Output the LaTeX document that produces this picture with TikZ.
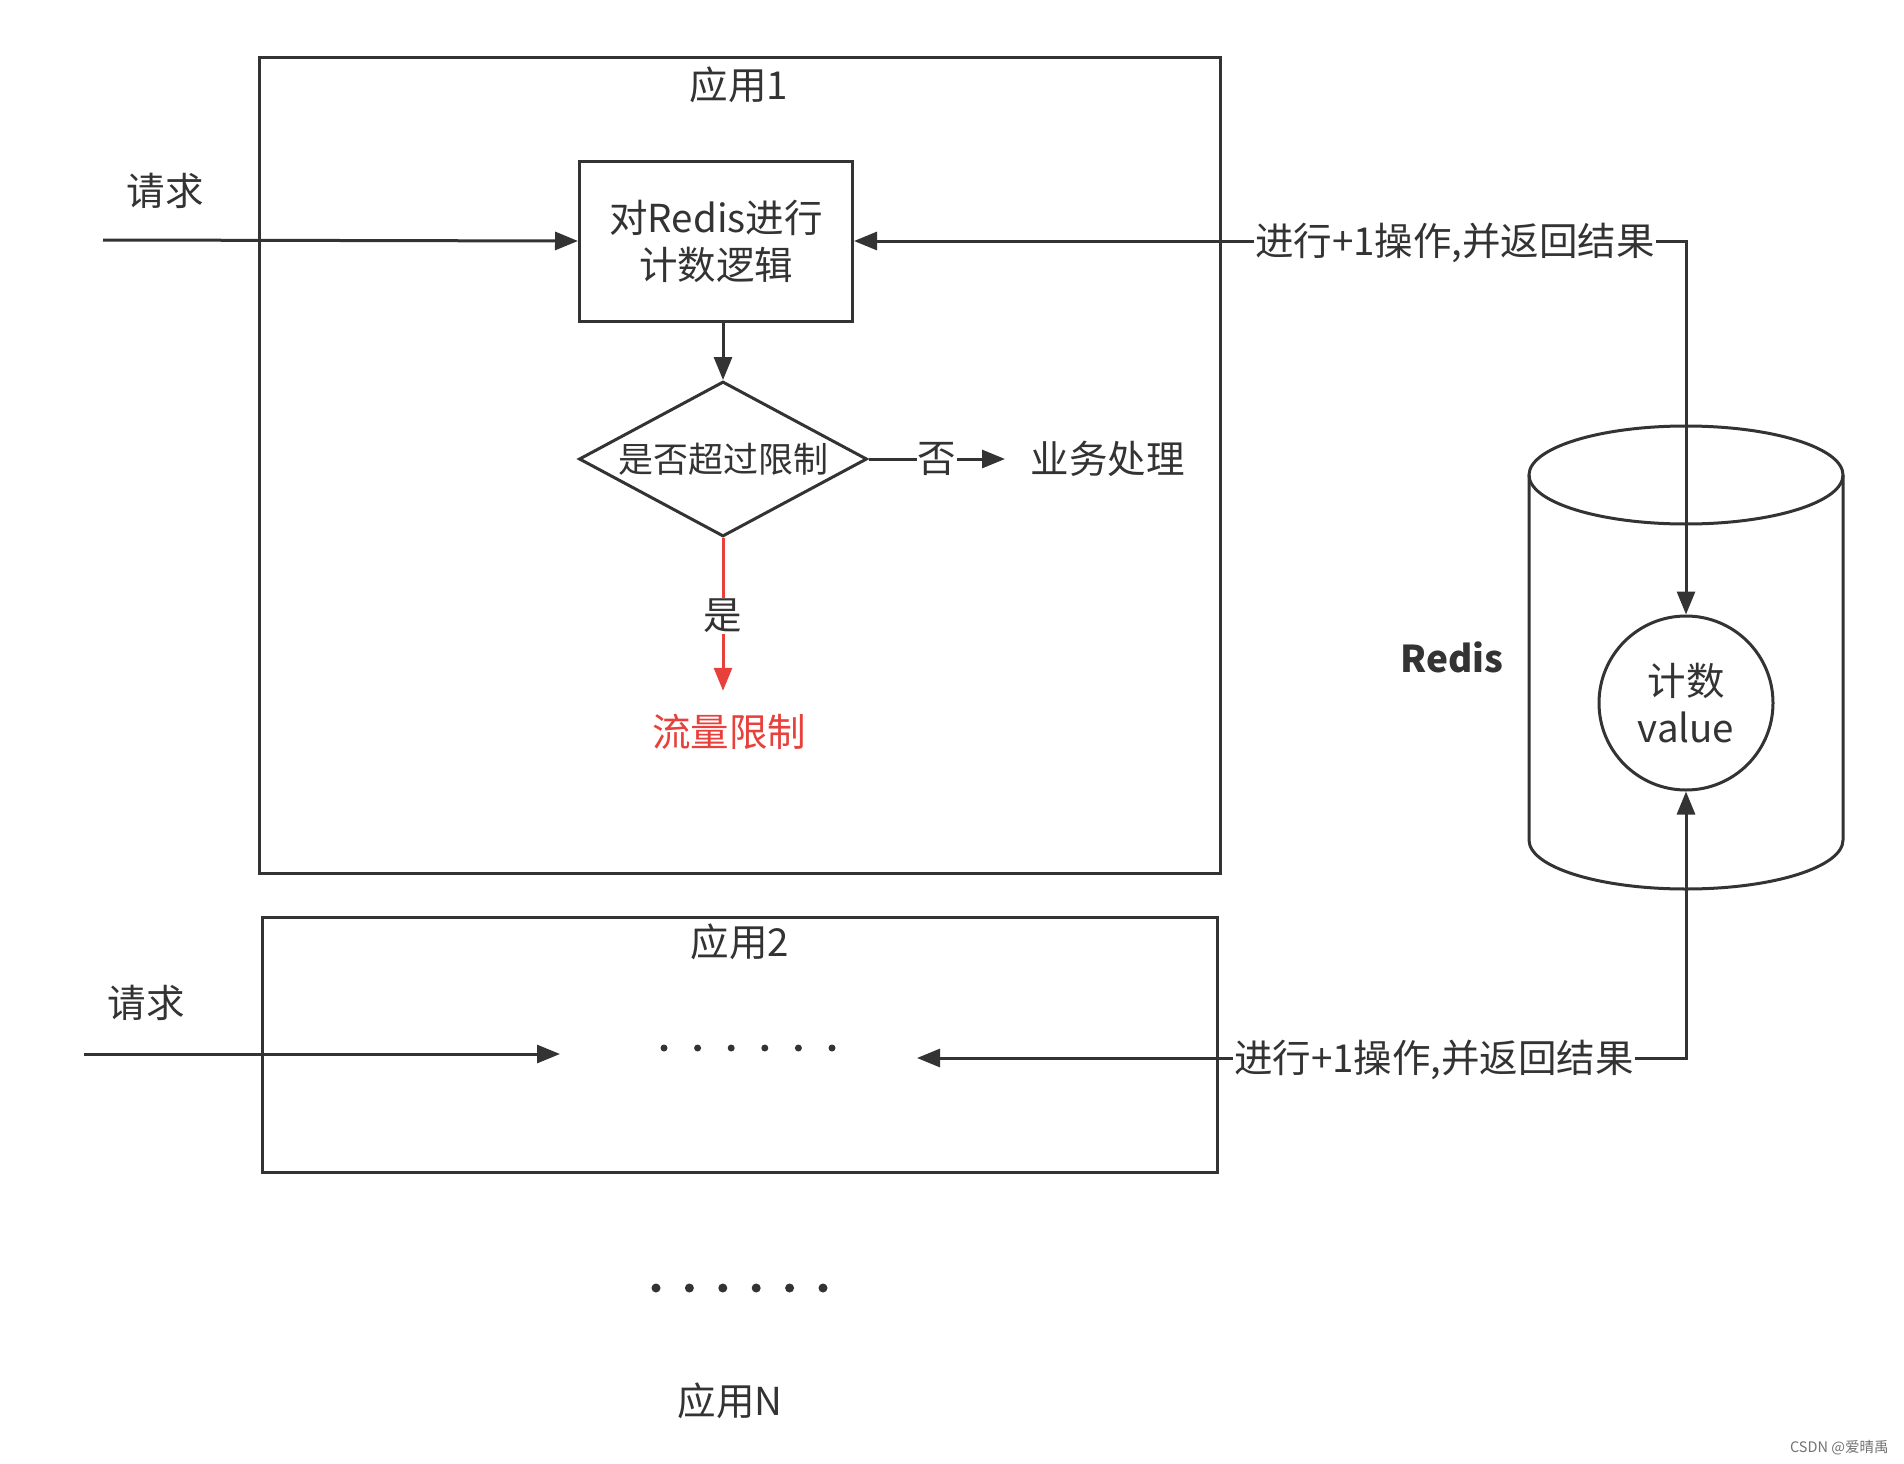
\documentclass[tikz,border=0pt]{standalone}
\usepackage{fontspec}
\setmainfont{Noto Sans CJK SC}
\usetikzlibrary{arrows.meta,shapes.geometric}
\definecolor{ink}{HTML}{333333}
\definecolor{redc}{RGB}{232,64,58}
\begin{document}
\begin{tikzpicture}[x=1pt,y=-1pt,line width=3pt,draw=ink,text=ink,
  tipend/.style={-{Triangle[length=23pt,width=18pt]}},
  tipboth/.style={{Triangle[length=23pt,width=18pt]}-{Triangle[length=23pt,width=18pt]}},
  txt/.style={font=\fontsize{38.5}{47}\selectfont,text=ink,inner sep=2pt},
  lbl/.style={txt,fill=white,inner xsep=1pt,inner ysep=1pt},
  frame/.style={draw,inner sep=0pt}]
\fill[white] (0,0) rectangle (1904,1464);
\useasboundingbox (0,0) rectangle (1904,1464);

% application 1
\node[frame,minimum width=961pt,minimum height=815pt] (app1) at (739.5,465.5) {};
\node[txt] (t1) at (739,85) {应用1};
\node[txt] (req1) at (165,191) {请求};
\node[draw,minimum width=273pt,minimum height=160pt,txt,align=center] (cnt) at (716,241) {对Redis进行\\计数逻辑};
\node[diamond,draw,aspect=1.86,minimum width=288pt,minimum height=155pt,inner sep=0pt,font=\fontsize{35}{40}\selectfont] (dia) at (723,459) {是否超过限制};
\node[txt,anchor=west,inner xsep=24pt] (biz) at (1005,459) {业务处理};
\node[txt,text=redc] (lim) at (729,732) {流量限制};

\coordinate (r1) at (103,240);
\draw[tipend] (r1) -- (cnt.west);
\draw[tipend] (cnt.south -| dia.north) -- (dia.north);
\draw[tipend] (dia.east) -- (biz.west) node[lbl,midway] (no) {否};
\draw[draw=redc,-{Triangle[length=23pt,width=18pt]},shorten >=20pt] (dia.south) -- (dia.south |- lim.north) node[lbl,pos=0.45,text=ink] (yes) {是};

% Redis cylinder
\draw (1686,475) ellipse [x radius=157, y radius=49];
\draw (1529,475) -- (1529,840)
  .. controls (1529,867) and (1599,889) .. (1686,889)
  .. controls (1773,889) and (1843,867) .. (1843,840) -- (1843,475);
\node[draw,circle,minimum size=174pt,inner sep=0pt,txt,align=center] (rv) at (1686,703) {计数\\value};
\node[txt,font=\fontsize{37}{40}\selectfont\bfseries] (rl) at (1452,657) {Redis};

\coordinate (c1) at (rv.north |- cnt.east);
\draw[tipboth] (cnt.east) -- (c1) -- (rv.north);
\node[lbl] (op1) at (1455,243) {进行+1操作,并返回结果};

% application 2
\node[frame,minimum width=955pt,minimum height=255pt] (app2) at (739.5,1044.5) {};
\node[txt] (t2) at (740,942) {应用2};
\node[txt] (req2) at (146,1003) {请求};
\coordinate (r2s) at (84,1054);
\coordinate (r2e) at (560,1054);
\draw[tipend] (r2s) -- (r2e);
\foreach \i in {0,...,5} \fill[ink] (664+33.6*\i,1048) circle (3.5pt);
\coordinate (tip2) at (917,1058);
\coordinate (c2) at (rv.south |- tip2);
\draw[tipboth] (tip2) -- (c2) -- (rv.south);
\node[lbl] (op2) at (1434,1060) {进行+1操作,并返回结果};

% application N
\foreach \i in {0,...,5} \fill[ink] (656+33.4*\i,1288) circle (4.5pt);
\node[txt] (tN) at (730,1401) {应用N};

\node[font=\fontsize{14.5}{16}\selectfont,text=black!55,anchor=east,inner sep=0pt] (wm) at (1890,1448) {CSDN @爱晴禹};
\end{tikzpicture}
\end{document}
